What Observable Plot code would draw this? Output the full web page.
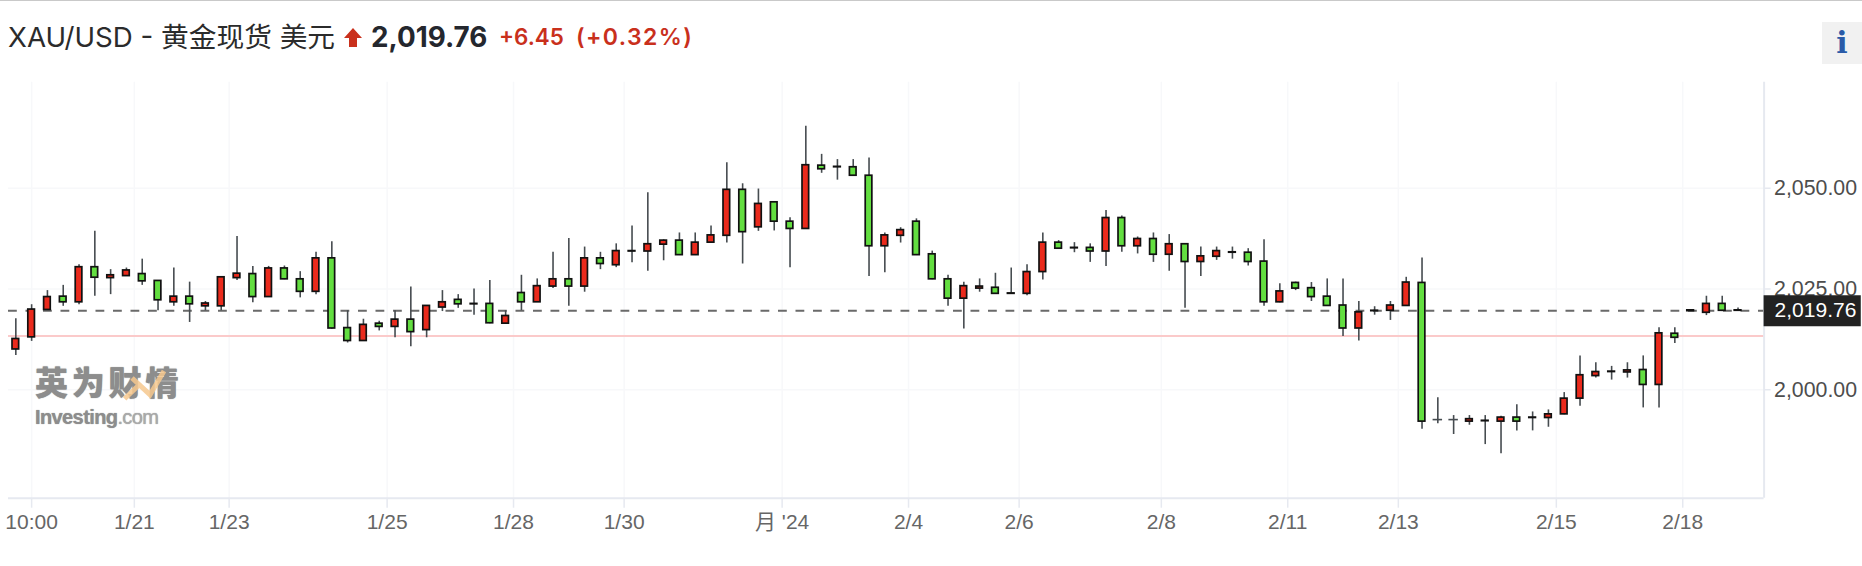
<!DOCTYPE html>
<html lang="zh">
<head>
<meta charset="utf-8">
<script src="https://cdn.jsdelivr.net/npm/d3@7"></script>
<script src="https://cdn.jsdelivr.net/npm/@observablehq/plot@0.6"></script>
<style>
html,body{margin:0;padding:0;background:#fff;overflow:hidden}
#wrap{position:relative;width:1862px;height:566px}
#head{position:relative;box-sizing:border-box;height:70px;border-top:1.5px solid #c9c9c9;font-family:Inter,"Noto Sans CJK SC",sans-serif;white-space:nowrap}
#head span{position:absolute;top:19px;line-height:34px}
#name{left:8px;color:#2b2b2b;font-weight:400;font-size:27.7px}
#arrow{position:absolute;left:344px;top:27px}
#price{left:371px;color:#24272e;font-weight:700;font-size:27.8px}
#chg{left:499px;color:#c9301c;font-weight:600;font-size:22.4px}
#pct{left:576px;color:#c9301c;font-weight:600;font-size:23px;letter-spacing:1.4px}
#info{position:absolute;left:1822px;top:20.5px;width:40px;height:42px;background:#f1f1f1;color:#2a5ba8;font:700 30px/42px "DejaVu Serif",serif;text-align:center}
.mark{position:absolute;color:#8d8d8d;pointer-events:none;text-shadow:0 0 1px #8d8d8d;white-space:nowrap}
#markCn{left:35px;top:361px;font:900 33px/40px "Noto Sans CJK SC",sans-serif;letter-spacing:3.8px}
#markEn{left:35px;top:407px;font:700 20px/20px "Liberation Sans",sans-serif;letter-spacing:-.6px}
#markEn i{font-style:normal;font-weight:400;color:#aaa}
#swoosh{position:absolute;left:120px;top:366px}
</style>
</head>
<body>
<div id="wrap">
<div id="head">
<span id="name">XAU/USD - 黄金现货 美元</span>
<svg id="arrow" width="18" height="19" viewBox="0 0 18 19"><path d="M9 0L18 10H13V19H5V10H0Z" fill="#c9301c"/></svg>
<span id="price">2,019.76</span><span id="chg">+6.45</span><span id="pct">(+0.32%)</span>
<div id="info">i</div>
</div>
<div id="chart"></div>
<div class="mark" id="markCn">英为财情</div>
<div class="mark" id="markEn">Investing<i>.com</i></div>
<svg id="swoosh" width="50" height="40"><path d="M4.6 32.7L20 18M12 12L30 28.7L44 5" fill="none" stroke="#f6c88e" stroke-width="5" opacity=".85"/></svg>
</div>
<script>
const high = [2017.6,2021.1,2024.6,2025.9,2031.0,2039.3,2029.8,2030.2,2032.4,2027.1,
2030.2,2026.7,2021.9,2027.9,2038.0,2030.6,2030.6,2030.7,2029.3,2034.1,
2036.7,2019.6,2017.5,2017.0,2019.6,2025.5,2020.9,2024.6,2023.6,2025.0,
2027.1,2019.6,2028.4,2027.5,2034.1,2037.5,2035.4,2034.1,2036.2,2040.6,
2048.9,2037.2,2038.9,2038.9,2040.6,2056.3,2051.1,2049.8,2046.6,2042.7,
2065.4,2058.4,2057.1,2057.1,2057.5,2038.9,2040.2,2042.4,2034.4,2028.4,
2026.7,2027.5,2028.9,2030.2,2031.0,2038.9,2037.0,2036.5,2036.2,2044.5,
2043.1,2037.9,2038.9,2038.5,2036.2,2035.4,2035.4,2035.4,2035.0,2037.2,
2026.3,2026.7,2026.6,2027.5,2027.5,2021.9,2020.6,2021.9,2027.9,2032.7,
1998.0,1993.6,1993.6,1993.6,1993.4,1996.3,1994.5,1995.0,1999.3,2008.4,
2006.7,2005.8,2006.7,2008.4,2015.4,2015.4,2019.8,2023.2,2023.2,2020.3];
const bodyTop = [2012.6,2019.9,2023.0,2023.1,2030.4,2030.4,2028.4,2029.6,2028.7,2027.0,
2023.1,2023.1,2021.4,2027.9,2028.8,2028.7,2030.1,2030.1,2027.4,2032.6,
2032.6,2015.3,2016.1,2016.4,2017.4,2017.4,2020.8,2021.7,2022.3,2021.3,
2021.3,2018.3,2024.0,2025.7,2027.4,2027.4,2032.6,2032.6,2034.4,2034.4,
2036.1,2037.0,2037.0,2036.5,2038.3,2049.6,2049.6,2046.1,2046.5,2041.7,
2055.7,2055.6,2055.3,2055.2,2053.1,2038.3,2039.6,2041.7,2033.6,2027.4,
2025.7,2025.6,2025.3,2023.9,2029.2,2036.5,2036.5,2035.2,2035.2,2042.6,
2042.6,2037.4,2037.4,2036.1,2036.1,2033.1,2034.4,2034.1,2034.0,2031.8,
2024.4,2026.5,2025.2,2023.1,2020.9,2019.2,2019.6,2020.9,2026.6,2026.5,
1992.6,1992.6,1992.7,1992.3,1993.1,1993.1,1993.1,1993.9,1997.8,2003.6,
2004.4,2004.5,2004.8,2004.9,2014.0,2013.9,2019.7,2021.3,2021.3,2019.7];
const bodyBottom = [2010.0,2013.0,2019.8,2021.7,2021.7,2027.8,2027.7,2028.2,2026.9,2022.2,
2021.7,2021.2,2020.7,2020.7,2027.7,2023.0,2023.0,2027.4,2024.3,2024.3,
2015.2,2012.1,2012.1,2015.6,2015.6,2014.3,2014.8,2020.4,2021.2,2021.2,
2016.5,2016.4,2021.7,2021.7,2025.6,2025.6,2025.6,2031.2,2030.9,2034.3,
2034.3,2036.0,2033.4,2033.4,2036.5,2038.2,2039.1,2040.3,2041.7,2039.9,
2039.9,2054.7,2055.2,2053.1,2035.6,2035.6,2038.2,2033.4,2027.4,2022.6,
2022.6,2025.1,2023.8,2023.8,2023.8,2029.2,2035.0,2035.1,2034.3,2034.3,
2035.6,2035.6,2033.5,2033.5,2031.7,2031.7,2033.0,2034.0,2031.7,2021.7,
2021.7,2025.1,2023.0,2020.8,2015.2,2015.2,2019.5,2019.6,2020.8,1992.1,
1992.6,1992.6,1992.1,1992.2,1992.1,1992.1,1993.0,1993.0,1993.9,1997.8,
2003.4,2004.4,2004.3,2001.2,2001.2,2012.9,2019.5,2019.1,2019.6,2019.6];
const low = [2008.5,2012.0,2019.7,2020.7,2021.1,2023.2,2023.6,2028.1,2025.9,2019.6,
2020.7,2016.7,2019.6,2019.6,2027.1,2021.6,2022.9,2027.3,2022.8,2023.6,
2015.0,2011.6,2012.1,2014.6,2012.9,2010.7,2012.9,2019.4,2020.2,2018.5,
2016.4,2016.4,2019.6,2021.7,2025.1,2020.7,2024.2,2029.8,2030.3,2031.5,
2029.4,2032.0,2033.3,2033.3,2036.4,2036.4,2031.2,2039.3,2039.4,2030.3,
2039.8,2053.7,2052.0,2053.0,2028.1,2029.0,2036.4,2033.3,2027.3,2020.7,
2015.1,2024.2,2023.7,2023.8,2023.3,2027.2,2034.9,2034.0,2031.6,2030.6,
2034.1,2033.7,2031.6,2029.4,2020.2,2028.1,2032.1,2032.4,2030.7,2020.7,
2021.6,2024.6,2021.9,2020.7,2013.2,2012.1,2018.5,2017.2,2020.7,1990.2,
1991.6,1988.9,1991.2,1986.4,1984.1,1989.8,1989.8,1990.7,1993.8,1995.9,
2002.9,2002.4,2002.9,1995.5,1995.5,2011.5,2019.5,2018.4,2019.4,2019.5];
const direction = "RRRGRGRRGG"+"RGRRRGRGGR"+"GGRGRGRRGR"+"GRGRRGRGRR"+"RRGRRRGRGG"+
"RGRGGRRGGG"+"RRGGRRGRGR"+"GRGRGRRRGG"+"RGGGGRRRRG"+"RRRRRGRRRR"+"RRRGRGRRGR";

const tickIndex = [1,7.5,13.5,23.5,31.5,38.5,48.5,56.5,63.5,72.5,80.5,87.5,97.5,105.5];
const tickLabels = ["10:00","1/21","1/23","1/25","1/28","1/30","月 '24","2/4","2/6","2/8","2/11","2/13","2/15","2/18"];
const priceTicks = [2000,2025,2050];
const lastPrice = 2019.6;           // where the dashed level is drawn
const lastPriceText = "2,019.76";
const previousClose = 2013.31;

const xMin=-0.464, xMax=110.65, yMin=1973.1, yMax=2076.3;
const rows = high.map((h,i)=>({i,high:h,low:low[i],top:bodyTop[i],bottom:bodyBottom[i],dir:direction[i]}));
const flatRows = rows.filter(d=>d.top-d.bottom<0.05);
const labelOf = new Map(tickIndex.map((t,k)=>[t,tickLabels[k]]));
const axisColor="#e6e9f0", gridColor="#f7f8fa";

const chart = Plot.plot({
  width:1862, height:496,
  marginLeft:8, marginRight:98.4, marginTop:11.7, marginBottom:68.3,
  style:{fontFamily:'"Liberation Sans","Noto Sans CJK SC",sans-serif',background:"transparent",overflow:"visible"},
  x:{domain:[xMin,xMax]},
  y:{domain:[yMin,yMax]},
  marks:[
    Plot.gridX(tickIndex,{stroke:gridColor,strokeOpacity:1,strokeWidth:1.5}),
    Plot.gridY(priceTicks,{stroke:gridColor,strokeOpacity:1,strokeWidth:1.5}),
    Plot.ruleY([previousClose],{stroke:"#fbcaca",strokeWidth:2}),
    Plot.ruleY([lastPrice],{stroke:"#6a6a6a",strokeWidth:1.8,strokeDasharray:"8.8,8.7"}),
    Plot.ruleX([xMax],{y1:yMin,y2:yMax,stroke:axisColor,strokeWidth:2}),
    Plot.ruleY([yMin],{stroke:axisColor,strokeWidth:2}),
    Plot.axisX({ticks:tickIndex,tickFormat:d=>labelOf.get(d),tickSize:10,tickPadding:6,stroke:axisColor,fill:"#666",fontSize:21,label:null,strokeWidth:1.5}),
    Plot.axisY({anchor:"right",ticks:priceTicks,tickFormat:d3.format(",.2f"),tickSize:6,tickPadding:4,stroke:axisColor,fill:"#4d4d4d",fontSize:21.3,label:null,strokeWidth:1.5}),
    Plot.ruleX(rows,{x:"i",y1:"low",y2:"high",stroke:"#464c50",strokeWidth:1.6}),
    Plot.ruleY(flatRows,{x1:d=>d.i-0.3,x2:d=>d.i+0.3,y:"top",stroke:"#464c50",strokeWidth:1.6}),
    Plot.rect(rows,{x1:d=>d.i-0.21,x2:d=>d.i+0.21,y1:"bottom",y2:"top",fill:d=>d.dir==="R"?"#ea2a1c":"#63de40",stroke:"#111",strokeWidth:1.7}),
    Plot.ruleY([lastPrice],{x1:xMax,x2:xMax+6.15,stroke:"#222",strokeWidth:31}),
    Plot.text([lastPriceText],{x:xMax,y:lastPrice,text:d=>d,dx:10.5,textAnchor:"start",fill:"#fff",fontSize:21})
  ]
});
document.getElementById("chart").appendChild(chart);
</script>
</body>
</html>
